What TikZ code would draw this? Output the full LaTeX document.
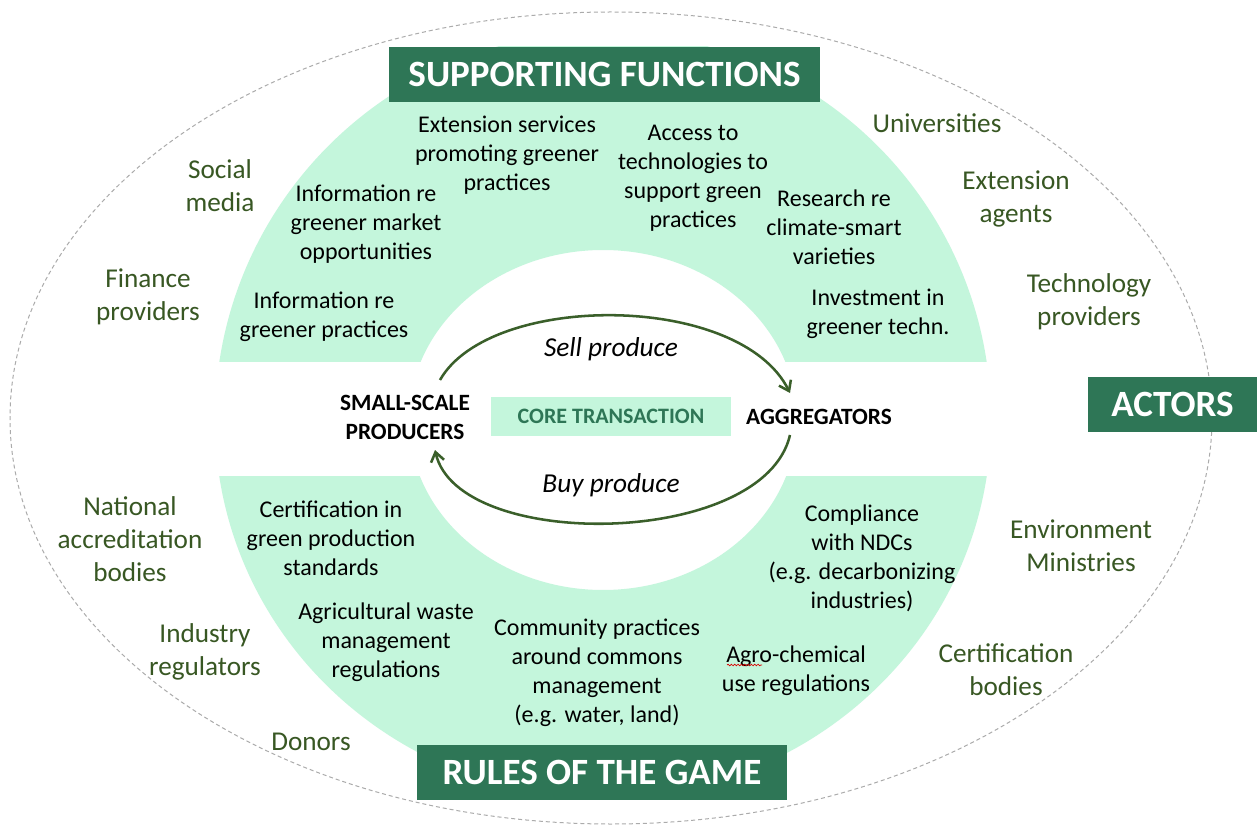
\documentclass[tikz,border=0pt]{standalone}
\usepackage{fontspec}
\setmainfont{Carlito}
\usetikzlibrary{arrows.meta,decorations.pathmorphing}
\definecolor{mint}{HTML}{C4F6DC}
\definecolor{hdr}{HTML}{2E7656}
\definecolor{olive}{HTML}{385723}
\definecolor{arr}{HTML}{3A5F2A}
\definecolor{ring}{HTML}{ABABAB}
\begin{document}
\begin{tikzpicture}[x=0.75pt,y=-0.75pt,
  inner/.style={align=center,font=\fontsize{18}{21.8}\selectfont,text=black,inner sep=0pt},
  outer/.style={align=center,font=\fontsize{20.4}{24.75}\selectfont,text=olive,inner sep=0pt},
  header/.style={fill=hdr,text=white,font=\fontsize{27.8}{30}\bfseries\selectfont,inner sep=0pt,minimum height=41.25pt},
  actor/.style={align=center,font=\fontsize{17.5}{21.8}\bfseries\selectfont,text=black,inner sep=0pt},
  flow/.style={draw=arr,line width=1.9pt,-{Straight Barb[length=7pt,width=10pt,line width=1.9pt]}},
  flowlabel/.style={font=\fontsize{20.5}{24}\itshape\selectfont,text=black,inner sep=0pt}]
\useasboundingbox (0,0) rectangle (1257,827);
\fill[white] (0,0) rectangle (1257,827);
% outer dashed ellipse
\draw[ring,line width=0.75pt,dash pattern=on 3pt off 2.2pt] (611,418) ellipse [x radius=601,y radius=406];
% mint ring: upper part
\begin{scope}
  \clip (0,47) rectangle (1257,362);
  \fill[mint,even odd rule] (603,420) ellipse [x radius=388,y radius=388]
                            (603,420) ellipse [x radius=194,y radius=170];
\end{scope}
% mint ring: lower part
\begin{scope}
  \clip (0,476) rectangle (1257,800);
  \fill[mint,even odd rule] (603,420) ellipse [x radius=388,y radius=378]
                            (603,420) ellipse [x radius=194,y radius=170];
\end{scope}
% headers
\node[header,minimum width=323.25pt] (sf) at (604.5,74.5) {SUPPORTING FUNCTIONS};
\node[header,minimum width=277.5pt] (rg) at (602,772.5) {RULES OF THE GAME};
\node[header,minimum width=127pt] (ac) at (1172.5,404.5) {ACTORS};
% supporting functions
\node[inner] (ext) at (507,155) {Extension services\\promoting greener\\practices};
\node[inner] (imk) at (366,224) {Information re\\greener market\\opportunities};
\node[inner] (igp) at (324,316.5) {Information re\\greener practices};
\node[inner] (acc) at (693,178.5) {Access to\\technologies to\\support green\\practices};
\node[inner] (res) at (834,227.5) {Research re\\climate-smart\\varieties};
\node[inner] (inv) at (878,313.5) {Investment in\\greener techn.};
% rules of the game
\node[inner] (cer) at (331,538) {Certification in\\green production\\standards};
\node[inner] (agw) at (386,642.5) {Agricultural waste\\management\\regulations};
\node[inner] (com) at (597,673) {Community practices\\around commons\\management\\(e.g. water, land)};
\node[inner] (ndc) at (862,558) {Compliance\\with NDCs\\(e.g. decarbonizing\\industries)};
\node[inner] (agc) at (796,670.5) {Agro-chemical\\use regulations};
\draw[red!85!black,line width=0.5pt,decorate,decoration={snake,amplitude=0.6pt,segment length=2.5pt}]
  (727,665) -- (762,665);
% actors
\node[outer] (soc) at (220,186) {Social\\media};
\node[outer] (fin) at (148,296.5) {Finance\\providers};
\node[outer] (uni) at (937,123) {Universities};
\node[outer] (exa) at (1016,199) {Extension\\agents};
\node[outer] (tec) at (1089,301.5) {Technology\\providers};
\node[outer] (nat) at (130,539) {National\\accreditation\\bodies};
\node[outer] (ind) at (205,651.5) {Industry\\regulators};
\node[outer] (don) at (311,742) {Donors};
\node[outer] (env) at (1081,545.5) {Environment\\Ministries};
\node[outer] (cbo) at (1006,669.5) {Certification\\bodies};
% core transaction
\node[fill=mint,minimum width=180pt,minimum height=29.25pt,inner sep=0pt,
      text=hdr,font=\fontsize{16.5}{20}\bfseries\selectfont] (core) at (611,416.5) {CORE TRANSACTION};
\node[actor] (ssp) at (405,417.5) {SMALL-SCALE\\PRODUCERS};
\node[actor] (agg) at (819,417) {AGGREGATORS};
\node[flowlabel] (sell) at (611,349) {Sell produce};
\node[flowlabel] (buy) at (611,485) {Buy produce};
\coordinate (s0) at (440,380);
\coordinate (s1) at (790,393);
\coordinate (b0) at (790,435);
\coordinate (b1) at (435,450);
\draw[flow] (s0) .. controls (490,292) and (740,292) .. (s1);
\draw[flow] (b0) .. controls (764,548) and (458,552) .. (b1);
\end{tikzpicture}
\end{document}
